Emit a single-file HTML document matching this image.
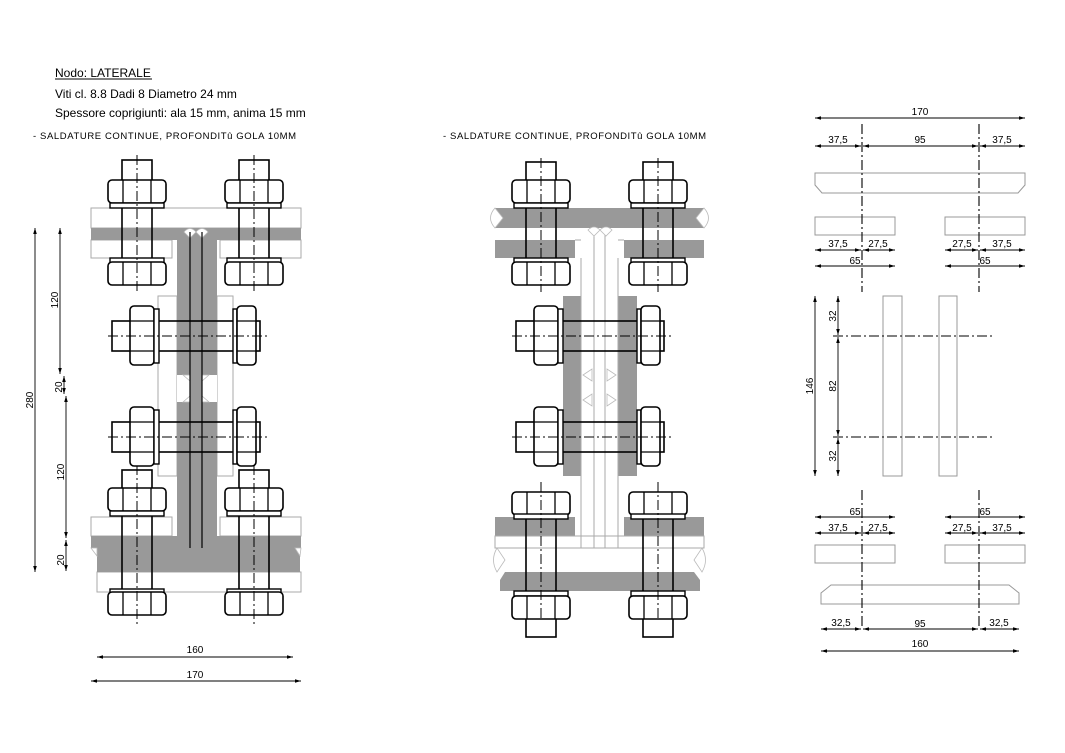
<!DOCTYPE html>
<html><head><meta charset="utf-8"><style>
html,body{margin:0;padding:0;background:#fff}
svg{display:block}
text{font-family:"Liberation Sans",sans-serif;fill:#000}
</style></head><body>
<svg width="1065" height="753" viewBox="0 0 1065 753" xmlns="http://www.w3.org/2000/svg">
<defs>
<marker id="a" viewBox="0 0 10 6" refX="10" refY="3" markerWidth="7" markerHeight="4" orient="auto-start-reverse"><path d="M0,0L10,3L0,6z" fill="#000"/></marker>
<g id="vnut"><rect x="-29" y="0" width="58" height="23" rx="4" fill="#fff" stroke="#000" stroke-width="1.6"/><line x1="-14" y1="0" x2="-14" y2="23" stroke="#000" stroke-width="1.3"/><line x1="14" y1="0" x2="14" y2="23" stroke="#000" stroke-width="1.3"/></g>
<g id="vwash"><rect x="-27" y="0" width="54" height="5" fill="#fff" stroke="#000" stroke-width="1.4"/></g>
<g id="hbolt">
<rect x="112" y="-15" width="148" height="30" fill="none" stroke="#000" stroke-width="1.6"/>
<rect x="130" y="-30" width="24" height="59" rx="4" fill="#fff" stroke="#000" stroke-width="1.6"/>
<line x1="130" y1="-15" x2="154" y2="-15" stroke="#000" stroke-width="1.3"/><line x1="130" y1="15" x2="154" y2="15" stroke="#000" stroke-width="1.3"/>
<rect x="154" y="-27" width="5" height="54" fill="#fff" stroke="#000" stroke-width="1.4"/>
<rect x="233" y="-27" width="4" height="54" fill="#fff" stroke="#000" stroke-width="1.4"/>
<rect x="237" y="-30" width="19" height="59" rx="4" fill="#fff" stroke="#000" stroke-width="1.6"/>
<line x1="237" y1="-15" x2="256" y2="-15" stroke="#000" stroke-width="1.3"/><line x1="237" y1="15" x2="256" y2="15" stroke="#000" stroke-width="1.3"/>
<line x1="108" y1="0" x2="268" y2="0" stroke="#000" stroke-width="1" stroke-dasharray="10,3,2,3"/>
</g>
</defs>

<text x="55" y="77" font-size="12">Nodo: LATERALE</text>
<line x1="55" y1="79" x2="152" y2="79" stroke="#000" stroke-width="1"/>
<text x="55" y="98" font-size="12">Viti cl. 8.8  Dadi 8  Diametro 24 mm</text>
<text x="55" y="117" font-size="12">Spessore coprigiunti: ala 15 mm, anima 15 mm</text>
<text x="33" y="139" font-size="9.5" letter-spacing="0.6">- SALDATURE CONTINUE, PROFONDITû GOLA  10MM</text>
<text x="443" y="139" font-size="9.5" letter-spacing="0.6">- SALDATURE CONTINUE, PROFONDITû GOLA  10MM</text>

<!-- LEFT ASSEMBLY -->
<g stroke="#aaa" stroke-width="1">
<rect x="91" y="208" width="210" height="20" fill="#fff"/>
<rect x="91" y="240" width="81" height="18" fill="#fff"/>
<rect x="220" y="240" width="81" height="18" fill="#fff"/>
<rect x="158" y="296" width="19" height="180" fill="#fff"/>
<rect x="217" y="296" width="16" height="180" fill="#fff"/>
<rect x="91" y="517" width="81" height="19" fill="#fff"/>
<rect x="220" y="517" width="81" height="19" fill="#fff"/>
<rect x="97" y="572" width="204" height="20" fill="#fff"/>
</g>
<g fill="#999">
<rect x="91" y="228" width="210" height="12"/>
<rect x="177" y="240" width="40" height="296"/>
<rect x="91" y="536" width="210" height="12"/>
<path d="M97,548H295L300,556V572H97Z"/>
</g>
<rect x="177" y="375" width="13" height="27" fill="#fff"/><rect x="202" y="375" width="15" height="27" fill="#fff"/>
<g fill="#fff" stroke="#bbb" stroke-width="0.8">
<path d="M184,232Q190,225 196,232L190,238Z"/><path d="M196,232Q202,225 208,232L202,238Z"/>
<path d="M183,375L190,381L190,375Z"/><path d="M209,375L202,381L202,375Z"/>
<path d="M183,402L190,396L190,402Z"/><path d="M209,402L202,396L202,402Z"/>
<path d="M91,548L97,548L97,556Z"/><path d="M301,548L295,548L300,556Z"/>
</g>
<g stroke="#000" stroke-width="1.2"><line x1="190" y1="232" x2="190" y2="548"/><line x1="202" y1="232" x2="202" y2="548"/></g>

<!-- middle assembly plates -->
<g fill="#999">
<rect x="495" y="208" width="209" height="20"/>
<rect x="495" y="240" width="80" height="18"/>
<rect x="624" y="240" width="80" height="18"/>
<rect x="563" y="296" width="18" height="180"/>
<rect x="618" y="296" width="19" height="180"/>
<rect x="495" y="517" width="80" height="19"/>
<rect x="624" y="517" width="80" height="19"/>
<path d="M505,572H694L700,580V591H500V580Z"/>
</g>
<g stroke="#aaa" stroke-width="1" fill="none">
<rect x="495" y="536" width="209" height="12"/>
<path d="M581,258V548M594,230V548M605,230V548M618,258V548"/>
<path d="M575,240H581M618,240H624"/>
</g>
<g fill="#fff" stroke="#bbb" stroke-width="0.8">
<path d="M495,208Q486,218 495,228L503,218Z"/><path d="M704,208Q713,218 704,228L696,218Z"/>
<path d="M588,230Q594,224 600,230L594,236Z"/><path d="M600,230Q606,224 612,230L606,236Z"/>
<path d="M583,375L592,369L592,381Z"/><path d="M616,375L607,369L607,381Z"/>
<path d="M583,400L592,394L592,406Z"/><path d="M616,400L607,394L607,406Z"/>
<path d="M497,548Q490,560 497,572L505,560Z"/><path d="M702,548Q709,560 702,572L694,560Z"/>
</g>

<!-- vertical bolts: left -->
<g id="lb1" transform="translate(137,0)">
<rect x="-15" y="160" width="30" height="121" fill="none" stroke="#000" stroke-width="1.6"/>
<use href="#vnut" y="180"/><use href="#vwash" y="203"/><use href="#vwash" y="258"/><use href="#vnut" y="262"/>
<line x1="0" y1="155" x2="0" y2="292" stroke="#000" stroke-width="1" stroke-dasharray="10,3,2,3"/>
</g>
<use href="#lb1" x="117"/>
<g id="lb2" transform="translate(137,0)">
<rect x="-15" y="470" width="30" height="143" fill="none" stroke="#000" stroke-width="1.6"/>
<use href="#vnut" y="488"/><use href="#vwash" y="511"/><use href="#vwash" y="589"/><use href="#vnut" y="592"/>
<line x1="0" y1="465" x2="0" y2="627" stroke="#000" stroke-width="1" stroke-dasharray="10,3,2,3"/>
</g>
<use href="#lb2" x="117"/>
<use href="#hbolt" y="336"/><use href="#hbolt" y="437"/>

<!-- vertical bolts: middle -->
<g id="mb1" transform="translate(541,0)">
<rect x="-15" y="162" width="30" height="119" fill="none" stroke="#000" stroke-width="1.6"/>
<use href="#vnut" y="180"/><use href="#vwash" y="203"/><use href="#vwash" y="258"/><use href="#vnut" y="262"/>
<line x1="0" y1="158" x2="0" y2="292" stroke="#000" stroke-width="1" stroke-dasharray="10,3,2,3"/>
</g>
<use href="#mb1" x="117"/>
<g id="mb2" transform="translate(541,0)">
<rect x="-15" y="495" width="30" height="142" fill="none" stroke="#000" stroke-width="1.6"/>
<use href="#vnut" y="492"/><use href="#vwash" y="514"/><use href="#vwash" y="591"/><use href="#vnut" y="596"/>
<line x1="0" y1="482" x2="0" y2="620" stroke="#000" stroke-width="1" stroke-dasharray="10,3,2,3"/>
</g>
<use href="#mb2" x="117"/>
<use href="#hbolt" x="404" y="336"/><use href="#hbolt" x="404" y="437"/>

<!-- left dims -->
<g stroke="#000" stroke-width="0.9" fill="none" marker-start="url(#a)" marker-end="url(#a)">
<line x1="35" y1="228" x2="35" y2="572"/>
<line x1="60" y1="228" x2="60" y2="374"/>
<line x1="64" y1="376" x2="64" y2="394"/>
<line x1="66" y1="396" x2="66" y2="538"/>
<line x1="66" y1="540" x2="66" y2="571"/>
<line x1="97" y1="657" x2="293" y2="657"/>
<line x1="91" y1="681" x2="301" y2="681"/>
</g>
<g font-size="10" text-anchor="middle">
<text transform="translate(33,400) rotate(-90)">280</text>
<text transform="translate(58,300) rotate(-90)">120</text>
<text transform="translate(62,387) rotate(-90)">20</text>
<text transform="translate(64,472) rotate(-90)">120</text>
<text transform="translate(64,560) rotate(-90)">20</text>
<text x="195" y="653">160</text>
<text x="195" y="678">170</text>
</g>

<!-- RIGHT -->
<g stroke="#999" stroke-width="1" fill="#fff">
<path d="M815,173H1025V185L1018,193H822L815,185Z"/>
<rect x="815" y="217" width="80" height="18"/><rect x="945" y="217" width="80" height="18"/>
<rect x="883" y="296" width="19" height="180"/><rect x="939" y="296" width="18" height="180"/>
<rect x="815" y="545" width="80" height="18"/><rect x="945" y="545" width="80" height="18"/>
<path d="M831,585H1009L1019,593V604H821V593Z"/>
</g>
<g stroke="#000" stroke-width="1.1" stroke-dasharray="10,3,2,3">
<line x1="862" y1="124" x2="862" y2="292"/><line x1="979" y1="124" x2="979" y2="292"/>
<line x1="862" y1="490" x2="862" y2="627"/><line x1="979" y1="490" x2="979" y2="627"/>
<line x1="833" y1="336" x2="993" y2="336"/><line x1="833" y1="437" x2="993" y2="437"/>
</g>
<g stroke="#000" stroke-width="0.9" fill="none" marker-start="url(#a)" marker-end="url(#a)">
<line x1="815" y1="118" x2="1025" y2="118"/>
<line x1="815" y1="146" x2="861" y2="146"/><line x1="863" y1="146" x2="978" y2="146"/><line x1="980" y1="146" x2="1025" y2="146"/>
<line x1="815" y1="250" x2="861" y2="250"/><line x1="863" y1="250" x2="895" y2="250"/>
<line x1="945" y1="250" x2="978" y2="250"/><line x1="980" y1="250" x2="1025" y2="250"/>
<line x1="815" y1="266" x2="895" y2="266"/><line x1="945" y1="266" x2="1025" y2="266"/>
<line x1="815" y1="296" x2="815" y2="476"/>
<line x1="838" y1="296" x2="838" y2="335"/><line x1="838" y1="337" x2="838" y2="436"/><line x1="838" y1="438" x2="838" y2="476"/>
<line x1="815" y1="517" x2="895" y2="517"/><line x1="945" y1="517" x2="1025" y2="517"/>
<line x1="815" y1="533" x2="861" y2="533"/><line x1="863" y1="533" x2="895" y2="533"/>
<line x1="945" y1="533" x2="978" y2="533"/><line x1="980" y1="533" x2="1025" y2="533"/>
<line x1="821" y1="629" x2="861" y2="629"/><line x1="863" y1="629" x2="978" y2="629"/><line x1="980" y1="629" x2="1019" y2="629"/>
<line x1="821" y1="651" x2="1019" y2="651"/>
</g>
<g font-size="10" text-anchor="middle">
<text x="920" y="115">170</text>
<text x="838" y="143">37,5</text><text x="920" y="143">95</text><text x="1002" y="143">37,5</text>
<text x="838" y="247">37,5</text><text x="878" y="247">27,5</text><text x="962" y="247">27,5</text><text x="1002" y="247">37,5</text>
<text x="855" y="264">65</text><text x="985" y="264">65</text>
<text transform="translate(813,386) rotate(-90)">146</text>
<text transform="translate(836,316) rotate(-90)">32</text>
<text transform="translate(836,386) rotate(-90)">82</text>
<text transform="translate(836,456) rotate(-90)">32</text>
<text x="855" y="515">65</text><text x="985" y="515">65</text>
<text x="838" y="531">37,5</text><text x="878" y="531">27,5</text><text x="962" y="531">27,5</text><text x="1002" y="531">37,5</text>
<text x="841" y="626">32,5</text><text x="920" y="627">95</text><text x="999" y="626">32,5</text>
<text x="920" y="647">160</text>
</g>
</svg>
</body></html>
